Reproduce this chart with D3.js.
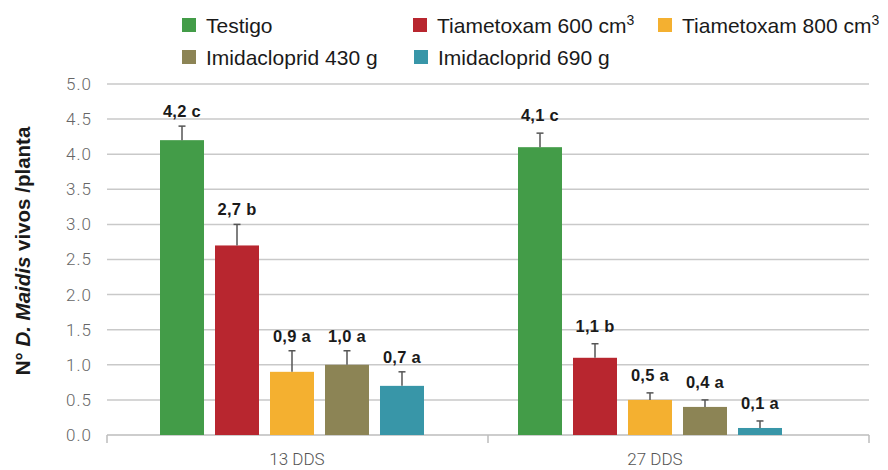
<!DOCTYPE html>
<html>
<head>
<meta charset="utf-8">
<script src="https://cdn.jsdelivr.net/npm/d3@7"></script>
<style>
  html, body { margin: 0; padding: 0; background: #fff; }
  svg { display: block; }
</style>
</head>
<body>
<svg id="chart" width="888" height="470"></svg>
<script>
// ---- data ----
const categories = ["13 DDS", "27 DDS"];
const seriesNames = ["Testigo", "Tiametoxam 600 cm", "Tiametoxam 800 cm", "Imidacloprid 430 g", "Imidacloprid 690 g"];
const seriesSup = ["", "3", "3", "", ""];
const values13 = [4.2, 2.7, 0.9, 1.0, 0.7];
const values27 = [4.1, 1.1, 0.5, 0.4, 0.1];
const errors13 = [0.2, 0.3, 0.3, 0.2, 0.2];
const errors27 = [0.2, 0.2, 0.1, 0.1, 0.1];
const letters13 = ["c", "b", "a", "a", "a"];
const letters27 = ["c", "b", "a", "a", "a"];
const yTicks = [0, 0.5, 1, 1.5, 2, 2.5, 3, 3.5, 4, 4.5, 5];

// ---- style ----
const colors = ["#439c48", "#b8262f", "#f4b030", "#8c8455", "#3896a8"];
const labelGap = [9, 12];

const valuesByCat = [values13, values27];
const errorsByCat = [errors13, errors27];
const lettersByCat = [letters13, letters27];

const rows = [];
categories.forEach((c, ci) => {
  seriesNames.forEach((s, si) => {
    rows.push({cat: c, ci, series: s, si, value: valuesByCat[ci][si], err: errorsByCat[ci][si], letter: lettersByCat[ci][si]});
  });
});

const svg = d3.select("#chart");

const plotLeft = 107, plotRight = 869, plotTop = 84, plotBottom = 435;

const y = d3.scaleLinear().domain([0, 5]).range([plotBottom, plotTop]);

// frame scale for gridlines / axis ticks
const xFrame = d3.scaleBand().domain(categories).range([plotLeft, plotRight]).padding(0);

// bar group scale
const x0 = d3.scaleBand().domain(categories).range([113, 829]).paddingInner(0.2626).paddingOuter(0.1313);
const x1 = d3.scaleBand().domain(seriesNames).range([0, x0.bandwidth()]).paddingInner(0.2).paddingOuter(0);

// gridlines
svg.append("g").selectAll("line").data(yTicks.filter(t => t > 0)).join("line")
  .attr("x1", plotLeft).attr("x2", plotRight)
  .attr("y1", d => y(d)).attr("y2", d => y(d))
  .attr("stroke", "#c9c9c9").attr("stroke-width", 1.5);

// y tick labels
const yAxis = svg.append("g").attr("transform", `translate(${plotLeft},0)`)
  .call(d3.axisLeft(y).tickValues(yTicks).tickFormat(d3.format(".1f")).tickSize(0).tickPadding(15));
yAxis.select(".domain").remove();
yAxis.selectAll("text")
  .attr("font-family", "Roboto, 'Liberation Sans', sans-serif")
  .attr("font-weight", 300)
  .attr("font-size", 17)
  .attr("letter-spacing", "1px")
  .attr("fill", "#666");

// x axis line with ticks at band boundaries
const xAxisG = svg.append("g");
xAxisG.append("line")
  .attr("x1", plotLeft).attr("x2", plotRight)
  .attr("y1", plotBottom).attr("y2", plotBottom)
  .attr("stroke", "#bdbdbd").attr("stroke-width", 1.5);
const boundaries = categories.map(c => xFrame(c)).concat([xFrame(categories[categories.length - 1]) + xFrame.bandwidth()]);
xAxisG.selectAll("line.tick").data(boundaries).join("line")
  .attr("class", "tick")
  .attr("x1", d => d).attr("x2", d => d)
  .attr("y1", plotBottom).attr("y2", plotBottom + 8)
  .attr("stroke", "#bdbdbd").attr("stroke-width", 1.5);

// category labels
svg.append("g").selectAll("text").data(categories).join("text")
  .attr("x", d => x0(d) + x0.bandwidth() / 2 + 5)
  .attr("y", 465)
  .attr("text-anchor", "middle")
  .attr("font-family", "Roboto, 'Liberation Sans', sans-serif")
  .attr("font-weight", 300)
  .attr("font-size", 17)
  .attr("fill", "#555")
  .text(d => d);

// bars
const barG = svg.append("g");
barG.selectAll("rect").data(rows).join("rect")
  .attr("x", d => x0(d.cat) + x1(d.series))
  .attr("y", d => y(d.value))
  .attr("width", x1.bandwidth())
  .attr("height", d => y(0) - y(d.value))
  .attr("fill", d => colors[d.si]);

// error bars
const errG = svg.append("g").attr("stroke", "#555").attr("stroke-width", 1.5);
rows.forEach(d => {
  const cx = x0(d.cat) + x1(d.series) + x1.bandwidth() / 2;
  errG.append("line").attr("x1", cx).attr("x2", cx).attr("y1", y(d.value)).attr("y2", y(d.value + d.err));
  errG.append("line").attr("x1", cx - 3.5).attr("x2", cx + 3.5).attr("y1", y(d.value + d.err)).attr("y2", y(d.value + d.err));
});

// value labels
const fmt = v => d3.format(".1f")(v).replace(".", ",");
svg.append("g").selectAll("text").data(rows).join("text")
  .attr("x", d => x0(d.cat) + x1(d.series) + x1.bandwidth() / 2)
  .attr("y", d => y(d.value + d.err) - labelGap[d.ci])
  .attr("text-anchor", "middle")
  .attr("font-family", "'Liberation Sans', Arial, sans-serif")
  .attr("font-weight", "bold")
  .attr("font-size", 16.5)
  .attr("letter-spacing", "0.3px")
  .attr("fill", "#1a1a1a")
  .text(d => fmt(d.value) + " " + d.letter);

// y axis title
const title = svg.append("text")
  .attr("transform", "translate(30,251) rotate(-90)")
  .attr("text-anchor", "middle")
  .attr("font-family", "'Liberation Sans', Arial, sans-serif")
  .attr("font-weight", "bold")
  .attr("font-size", 20.5)
  .attr("fill", "#1a1a1a");
title.append("tspan").text("N° ");
title.append("tspan").attr("font-style", "italic").text("D. Maidis");
title.append("tspan").text(" vivos /planta");

// legend
const legendPos = [[182, 18], [413, 18], [658, 18], [182, 50], [414, 50]];
const leg = svg.append("g");
seriesNames.forEach((s, i) => {
  const [lx, ly] = legendPos[i];
  leg.append("rect").attr("x", lx).attr("y", ly).attr("width", 14).attr("height", 14).attr("fill", colors[i]);
  const t = leg.append("text")
    .attr("x", lx + 24).attr("y", ly + 15)
    .attr("font-family", "'Liberation Sans', Arial, sans-serif")
    .attr("font-size", 21)
    .attr("fill", "#1a1a1a");
  t.append("tspan").text(s);
  if (seriesSup[i]) {
    t.append("tspan").attr("font-size", 14).attr("dy", -8).text(seriesSup[i]);
  }
});
</script>
</body>
</html>
